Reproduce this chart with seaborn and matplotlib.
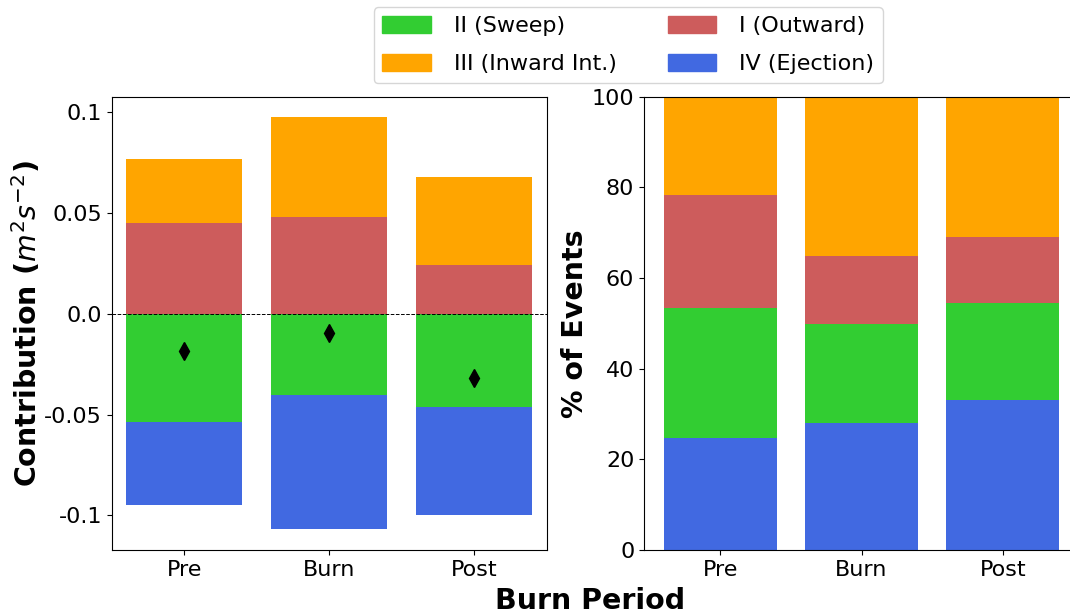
import numpy as np
import pandas as pd
import matplotlib
matplotlib.use("Agg")
import matplotlib.pyplot as plt
import seaborn as sns
from matplotlib.patches import Patch

periods = ["Pre", "Burn", "Post"]

# Contributions (m^2 s^-2) by quadrant
contrib_I_outward = [0.0453, 0.0478, 0.0244]
contrib_III_inward = [0.0313, 0.0497, 0.0436]
contrib_II_sweep = [-0.0537, -0.0403, -0.0463]
contrib_IV_ejection = [-0.0413, -0.0667, -0.0537]

# Percent of events by quadrant
pct_IV_ejection = [24.8, 28.1, 33.0]
pct_II_sweep = [28.7, 21.7, 21.4]
pct_I_outward = [24.8, 15.0, 14.6]
pct_III_inward = [21.7, 35.2, 31.0]

left_yticks = [-0.1, -0.05, 0.0, 0.05, 0.1]
left_yticklabels = ["-0.1", "-0.05", "0.0", "0.05", "0.1"]
right_yticks = [0, 20, 40, 60, 80, 100]

labels = {"II": "II (Sweep)", "III": "III (Inward Int.)",
          "I": "I (Outward)", "IV": "IV (Ejection)"}
colors = {"II": "#32CD32", "III": "#FFA500", "I": "#CD5C5C", "IV": "#4169E1"}

plt.rcParams["font.family"] = ["DejaVu Sans"]
plt.rcParams["axes.unicode_minus"] = False

fig = plt.figure(figsize=(10.7, 6.15), dpi=100)
ax1 = fig.add_axes([0.1044, 0.1057, 0.4065, 0.737])
ax2 = fig.add_axes([0.6019, 0.1057, 0.4065, 0.737])

# ---- Left: contributions, stacked (overlay of cumulative sums)
I = np.array(contrib_I_outward)
III = np.array(contrib_III_inward)
II = np.array(contrib_II_sweep)
IV = np.array(contrib_IV_ejection)
pos_top = I + III
neg_bot = II + IV
net = pos_top + neg_bot

for vals, key in [(pos_top, "III"), (I, "I"), (neg_bot, "IV"), (II, "II")]:
    df = pd.DataFrame({"period": periods, "v": vals})
    sns.barplot(data=df, x="period", y="v", color=colors[key], saturation=1,
                width=0.8, ax=ax1, order=periods, linewidth=0, edgecolor="none")

ax1.axhline(0, color="black", linestyle="--", linewidth=0.7, zorder=3)
ax1.plot(np.arange(len(periods)), net, linestyle="none", marker="d",
         color="black", markersize=9, zorder=4)
ax1.set_xlim(-0.5, len(periods) - 0.5)
ax1.set_yticks(left_yticks)
ax1.set_yticklabels(left_yticklabels)
ax1.set_xlabel("")
ax1.set_ylabel(r"Contribution ($m^2s^{-2}$)", fontsize=20.5, fontweight="bold",
               labelpad=1)
ax1.tick_params(labelsize=16)

# ---- Right: percent of events
c1 = np.array(pct_IV_ejection)
c2 = c1 + np.array(pct_II_sweep)
c3 = c2 + np.array(pct_I_outward)
c4 = c3 + np.array(pct_III_inward)
for vals, key in [(c4, "III"), (c3, "I"), (c2, "II"), (c1, "IV")]:
    df = pd.DataFrame({"period": periods, "v": vals})
    sns.barplot(data=df, x="period", y="v", color=colors[key], saturation=1,
                width=0.8, ax=ax2, order=periods, linewidth=0, edgecolor="none")
ax2.set_xlim(-0.54, len(periods) - 1 + 0.54)
ax2.set_ylim(0, 100)
ax2.set_yticks(right_yticks)
ax2.set_xlabel("")
ax2.set_ylabel("% of Events", fontsize=20.5, fontweight="bold", labelpad=2)
ax2.tick_params(labelsize=16)

fig.supxlabel("Burn Period", fontsize=20.5, fontweight="bold", x=0.551, y=0.0)

handles = [Patch(color=colors[k], label=labels[k]) for k in ["II", "III", "I", "IV"]]
fig.legend(handles=handles, loc="upper center", bbox_to_anchor=(0.587, 0.988),
           borderaxespad=0, ncol=2, fontsize=16, frameon=True,
           columnspacing=2.3, handletextpad=1.0, labelspacing=0.8,
           handlelength=2.2, handleheight=0.8)

fig.savefig("out.png", dpi=100)
